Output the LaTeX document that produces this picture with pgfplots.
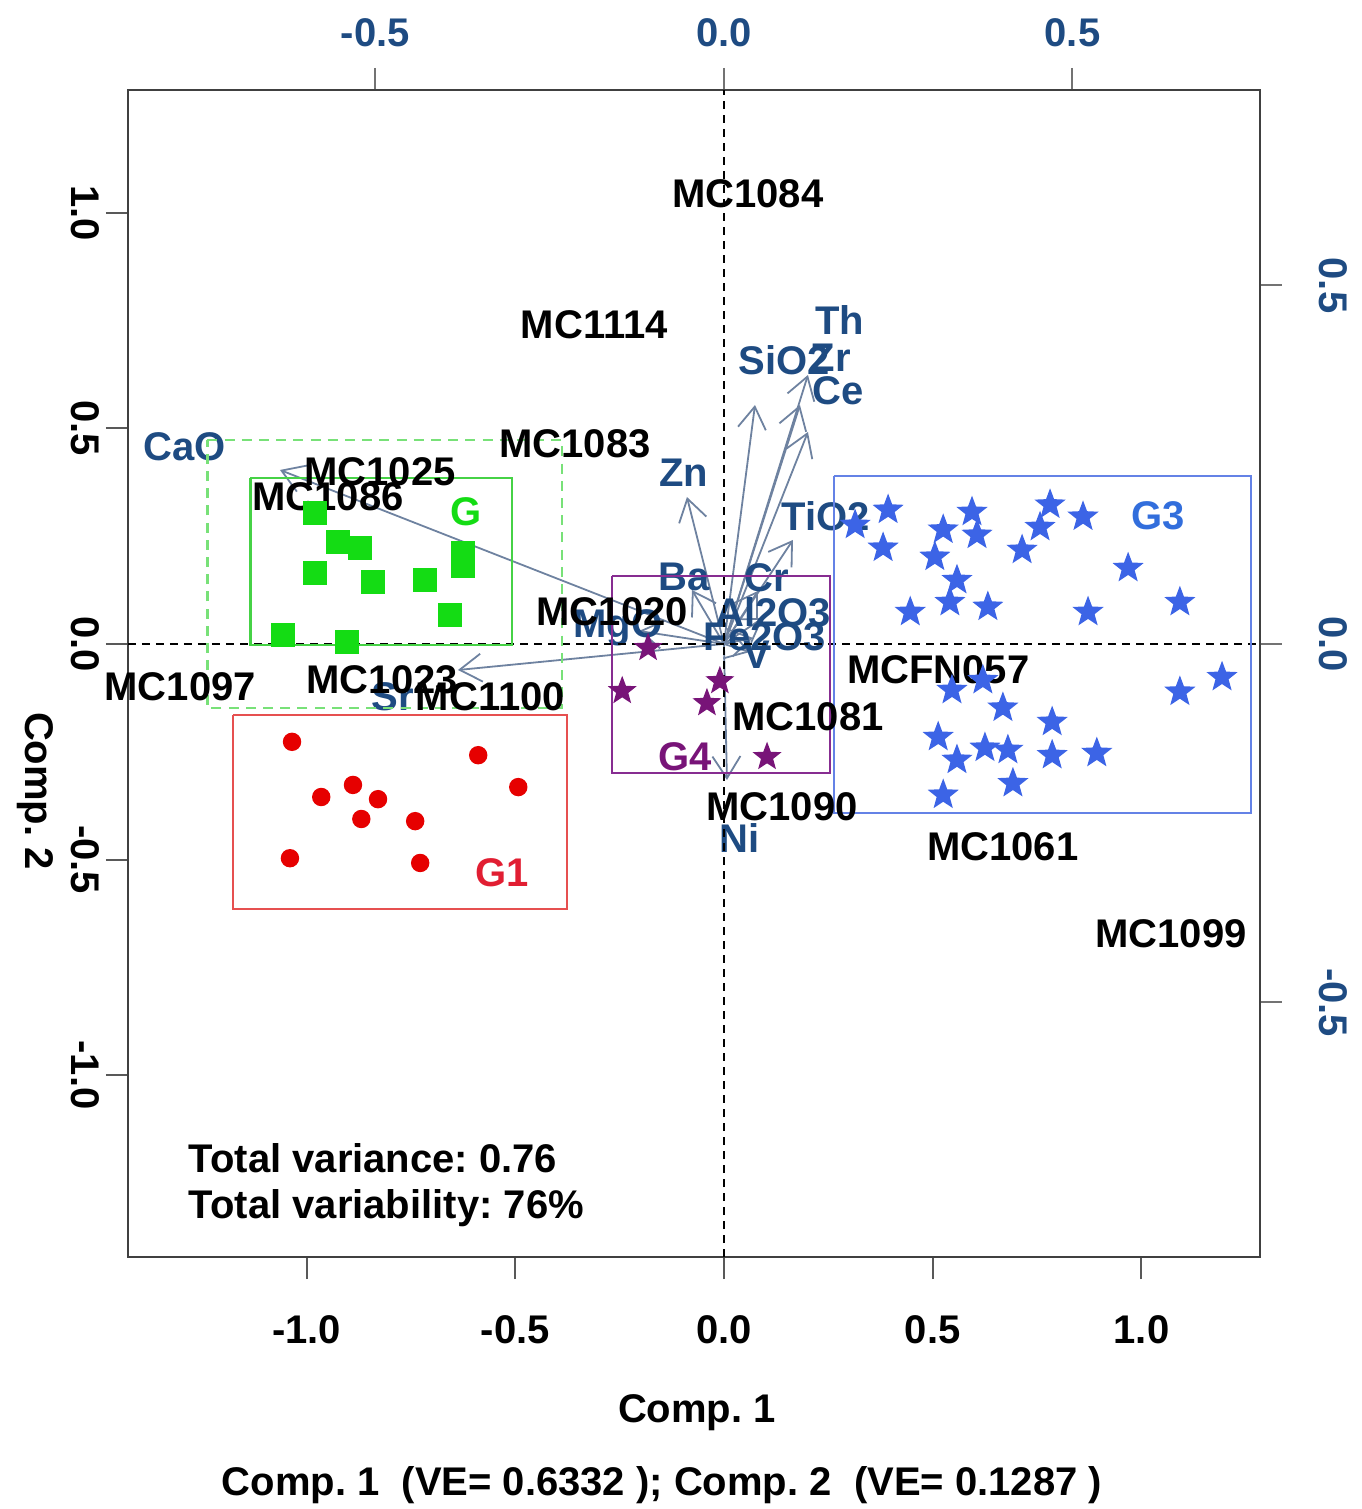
\documentclass[border=0pt]{standalone}
\usepackage{fontspec}
\setmainfont{Liberation Sans}
\usepackage{pgfplots}
\pgfplotsset{compat=1.18}
\usepackage{pgfplotstable}
\usetikzlibrary{arrows.meta}

\definecolor{gsq}{RGB}{20,220,20}
\definecolor{gbox}{RGB}{70,210,70}
\definecolor{gdash}{RGB}{120,225,120}
\definecolor{rpt}{RGB}{230,0,0}
\definecolor{rbox}{RGB}{230,80,80}
\definecolor{rlab}{RGB}{225,30,50}
\definecolor{ppt}{RGB}{120,20,120}
\definecolor{pbox}{RGB}{135,45,145}
\definecolor{bpt}{RGB}{60,100,230}
\definecolor{bbox}{RGB}{100,130,230}
\definecolor{blab}{RGB}{50,110,220}
\definecolor{varcol}{RGB}{30,75,130}
\definecolor{arrcol}{RGB}{110,130,160}

% filled five-point star
\pgfdeclareplotmark{fstar}{%
  \pgfpathmoveto{\pgfpointpolar{90}{\pgfplotmarksize}}%
  \pgfpathlineto{\pgfpointpolar{126}{0.42\pgfplotmarksize}}%
  \pgfpathlineto{\pgfpointpolar{162}{\pgfplotmarksize}}%
  \pgfpathlineto{\pgfpointpolar{198}{0.42\pgfplotmarksize}}%
  \pgfpathlineto{\pgfpointpolar{234}{\pgfplotmarksize}}%
  \pgfpathlineto{\pgfpointpolar{270}{0.42\pgfplotmarksize}}%
  \pgfpathlineto{\pgfpointpolar{306}{\pgfplotmarksize}}%
  \pgfpathlineto{\pgfpointpolar{342}{0.42\pgfplotmarksize}}%
  \pgfpathlineto{\pgfpointpolar{18}{\pgfplotmarksize}}%
  \pgfpathlineto{\pgfpointpolar{54}{0.42\pgfplotmarksize}}%
  \pgfpathclose\pgfusepathqfill}

% loadings: label position and arrow tip (top/right scale)
\pgfplotstableread{
name  ox oy lx      ly      tx      ty
Th    0  0  0.1664  0.4519  0.1205  0.3752
SiO2  0  0  0.0860  0.3961  0.0445  0.3333
Zr    0  0  0.1535  0.3989  0.1090  0.3333
Ce    0  0  0.1636  0.3529  0.1205  0.2957
Zn    0  0  -0.0574 0.2385  -0.0531 0.2050
TiO2  0  0  0.1463  0.1785  0.0990  0.1451
Cr    0  0  0.0617  0.0921  0.0488  0.0739
Ba    0  0  -0.0574 0.0934  -0.0459 0.0753
Al2O3 0  0  0.0703  0.0446  0.0560  0.0363
Fe2O3 0  0  0.0588  0.0098  0.0416  0.0084
V     0  0  0.0473  -0.0153 0.0373  -0.0112
MgO   0  0  -0.1521 0.0223  -0.1220 0.0181
CaO   0  0  -0.7733 0.2748  -0.6370 0.2427
Sr    0  0  -0.4749 -0.0739 -0.3816 -0.0363
Ni    0  0  0.0230  -0.2706 0.0043  -0.1897
}\loadings

\pgfplotstableread{
name    x      y
MC1084  0.057  1.044
MC1114  -0.311 0.740
MC1083  -0.357 0.464
MC1025  -0.824 0.399
MC1086  -0.949 0.341
MC1020  -0.268 0.074
MC1097  -1.303 -0.100
MC1023  -0.819 -0.084
MC1100  -0.560 -0.123
MCFN057 0.513  -0.060
MC1081  0.201  -0.169
MC1090  0.139  -0.378
MC1061  0.668  -0.471
MC1099  1.071  -0.671
}\samples

\pgfplotstableread{
x      y
-0.980 0.304
-0.925 0.237
-0.872 0.223
-0.980 0.165
-0.841 0.144
-0.716 0.148
-0.625 0.211
-0.625 0.181
-0.656 0.067
-1.056 0.021
-0.903 0.005
}\groupG

\pgfplotstableread{
x      y
-1.035 -0.227
-0.589 -0.258
-0.493 -0.332
-0.889 -0.327
-0.965 -0.355
-0.829 -0.360
-0.869 -0.406
-0.740 -0.411
-1.040 -0.497
-0.728 -0.508
}\groupGone

\pgfplotstableread{
x      y
0.393  0.311
0.314  0.276
0.381  0.223
0.594  0.306
0.525  0.265
0.606  0.253
0.505  0.202
0.558  0.148
0.541  0.097
0.446  0.074
0.632  0.086
0.781  0.323
0.757  0.271
0.714  0.218
0.860  0.295
0.968  0.176
0.872  0.074
1.092  0.097
1.193  -0.077
1.092  -0.111
0.546  -0.107
0.620  -0.084
0.668  -0.148
0.786  -0.181
0.513  -0.216
0.558  -0.269
0.625  -0.241
0.680  -0.246
0.786  -0.258
0.893  -0.253
0.692  -0.323
0.525  -0.350
}\groupGthree

\pgfplotstableread{
x      y
-0.182 -0.009
-0.244 -0.109
-0.010 -0.086
-0.041 -0.137
0.103  -0.262
}\groupGfour

\begin{document}
\frenchspacing
\begin{tikzpicture}[font=\bfseries]
% top/right axes: variable loadings
\begin{axis}[
    width=283pt, height=291.75pt, scale only axis,
    xmin=-0.855, xmax=0.769, ymin=-0.855, ymax=0.7727,
    axis line style={draw=none},
    xtick pos=right, ytick pos=right,
    tick align=outside, major tick length=5.5pt,
    tick style={black!55, line width=0.5pt},
    xtick={-0.5,0,0.5}, xticklabels={-0.5,0.0,0.5},
    ytick={-0.5,0,0.5}, yticklabels={-0.5,0.0,0.5},
    xticklabel style={anchor=center, yshift=8.75pt, text=varcol, font=\bfseries},
    yticklabel style={anchor=center, xshift=12.75pt, rotate=-90, text=varcol, font=\bfseries},
    clip=false,
]
\addplot[draw=arrcol, line width=0.45pt,
    -{Straight Barb[length=5.5pt, width=7pt]},
    quiver={u=\thisrow{tx}, v=\thisrow{ty}}]
    table[x=ox, y=oy] {\loadings};
\addplot[draw=none, nodes near coords, point meta=explicit symbolic,
    every node near coord/.style={anchor=center, text=varcol, font=\bfseries}]
    table[x=lx, y=ly, meta=name] {\loadings};
\end{axis}
% main axes: scores
\begin{axis}[
    width=283pt, height=291.75pt, scale only axis,
    xmin=-1.428, xmax=1.284, ymin=-1.422, ymax=1.285,
    axis line style={black!75, line width=0.6pt},
    xtick pos=left, ytick pos=left,
    tick align=outside, major tick length=5.5pt,
    tick style={black!65, line width=0.5pt},
    xtick={-1,-0.5,0,0.5,1}, xticklabels={-1.0,-0.5,0.0,0.5,1.0},
    ytick={-1,-0.5,0,0.5,1}, yticklabels={-1.0,-0.5,0.0,0.5,1.0},
    xticklabel style={anchor=center, yshift=-12.75pt, font=\bfseries},
    yticklabel style={anchor=center, xshift=-5.25pt, rotate=-90, font=\bfseries},
    clip=false,
]
\addplot[black, line width=0.5pt, dash pattern=on 2pt off 1.5pt] coordinates {(0,-1.422) (0,1.285)};
\addplot[black, line width=0.5pt, dash pattern=on 2pt off 1.5pt] coordinates {(-1.428,0) (1.284,0)};

\addplot[draw=none, nodes near coords, point meta=explicit symbolic,
    every node near coord/.style={anchor=center, text=black, font=\bfseries}]
    table[x=x, y=y, meta=name] {\samples};

% group boxes
\addplot[gdash, line width=0.6pt, dash pattern=on 2.5pt off 1.8pt] coordinates {(-1.238,0.473) (-0.388,0.473) (-0.388,-0.148) (-1.238,-0.148) (-1.238,0.473)};
\addplot[gbox, line width=0.6pt] coordinates {(-1.135,0.385) (-0.508,0.385) (-0.508,-0.002) (-1.135,-0.002) (-1.135,0.385)};
\addplot[rbox, line width=0.6pt] coordinates {(-1.176,-0.165) (-0.376,-0.165) (-0.376,-0.615) (-1.176,-0.615) (-1.176,-0.165)};
\addplot[pbox, line width=0.6pt] coordinates {(-0.268,0.158) (0.254,0.158) (0.254,-0.299) (-0.268,-0.299) (-0.268,0.158)};
\addplot[bbox, line width=0.6pt] coordinates {(0.263,0.390) (1.262,0.390) (1.262,-0.392) (0.263,-0.392) (0.263,0.390)};

% group points
\addplot[only marks, mark=square*, mark size=2.75pt, mark options={draw=gsq, fill=gsq}] table {\groupG};
\addplot[only marks, mark=*, mark size=2.1pt, mark options={draw=rpt, fill=rpt}] table {\groupGone};
\addplot[only marks, mark=fstar, mark size=4.1pt, mark options={fill=bpt}] table {\groupGthree};
\addplot[only marks, mark=fstar, mark size=3.8pt, mark options={fill=ppt}] table {\groupGfour};

% group labels
\node[text=gsq] at (axis cs:-0.618,0.306) {G};
\node[text=rlab] at (axis cs:-0.532,-0.531) {G1};
\node[text=blab] at (axis cs:1.040,0.297) {G3};
\node[text=ppt] at (axis cs:-0.093,-0.262) {G4};

\node[anchor=west, inner sep=0pt] at (axis cs:-1.284,-1.193) {Total variance: 0.76};
\node[anchor=west, inner sep=0pt] at (axis cs:-1.284,-1.309) {Total variability: 76\%};

\node at (axis cs:-0.065,-1.784) {Comp. 1};
\node[rotate=-90] at (axis cs:-1.650,-0.341) {Comp. 2};
\node at (axis cs:-0.149,-1.951) {Comp. 1\ \ (VE= 0.6332 ); Comp. 2\ \ (VE= 0.1287 )};

\coordinate (bl) at (rel axis cs:0,0);
\coordinate (tr) at (rel axis cs:1,1);
\end{axis}
\pgfresetboundingbox
\path ([shift={(-32pt,-63pt)}]bl) rectangle ([shift={(25.25pt,22.5pt)}]tr);
\end{tikzpicture}
\end{document}
